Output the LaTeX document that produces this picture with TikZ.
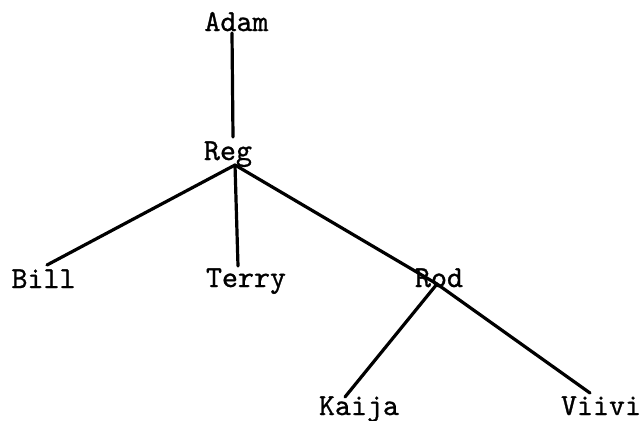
\documentclass[tikz,border=0pt]{standalone}
\usepackage{fontspec}
\newfontfamily\typer{lmmono10-regular.otf}[FakeBold=0.9]
\begin{document}
\begin{tikzpicture}[x=1pt,y=-1pt,
  person/.style={anchor=base,inner sep=0pt,font=\fontsize{30.5}{36}\selectfont\typer},
  edge/.style={line width=3.2pt,line cap=round}]
\useasboundingbox (0,0) rectangle (641,421);
% nodes
\node[person] (Adam)  at (236.5,31) {Adam};
\node[person] (Reg)   at (228,160) {Reg};
\node[person] (Bill)  at (43.5,288) {Bill};
\node[person] (Terry) at (246,287) {Terry};
\node[person] (Rod)   at (439,287) {Rod};
\node[person] (Kaija) at (359,415) {Kaija};
\node[person] (Viivi) at (601,415) {Viivi};
% connector end points
\coordinate (adamfoot) at (232,33);
\coordinate (regtop)   at (233,137);
\coordinate (reghub)   at (235,165);
\coordinate (billtop)  at (47,265);
\coordinate (terrytop) at (238,266);
\coordinate (rodhub)   at (437,284);
\coordinate (kaijatop) at (345,397);
\coordinate (viivitop) at (590,393);
% connectors
\draw[edge] (adamfoot) -- (regtop);
\draw[edge] (reghub) -- (billtop);
\draw[edge] (reghub) -- (terrytop);
\draw[edge] (reghub) -- (rodhub);
\draw[edge] (rodhub) -- (kaijatop);
\draw[edge] (rodhub) -- (viivitop);
\end{tikzpicture}
\end{document}
